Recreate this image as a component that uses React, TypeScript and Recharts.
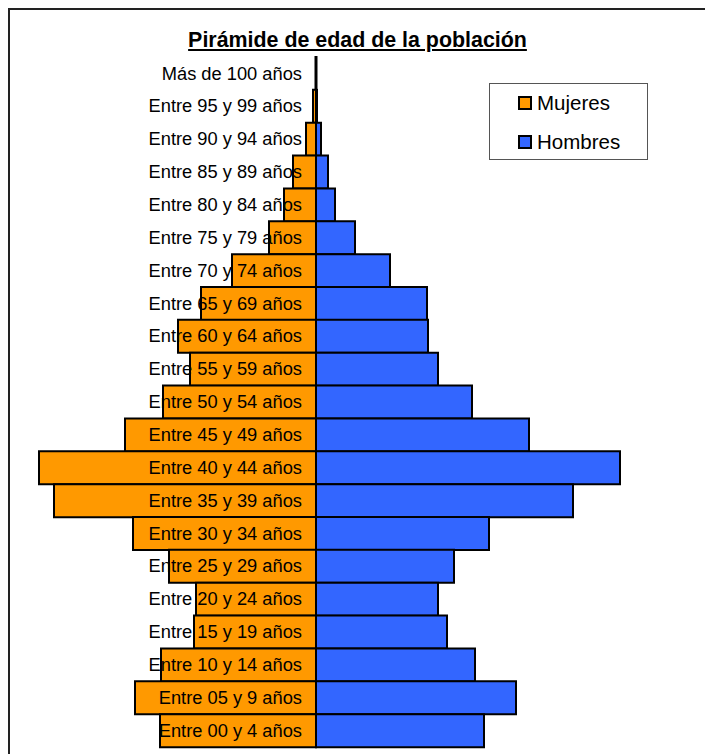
import { BarChart, Bar, XAxis, YAxis, Legend, LabelList } from "recharts";

// grupos de edad, de arriba hacia abajo
const edades = [
  "Más de 100 años", "Entre 95 y 99 años", "Entre 90 y 94 años", "Entre 85 y 89 años",
  "Entre 80 y 84 años", "Entre 75 y 79 años", "Entre 70 y 74 años", "Entre 65 y 69 años",
  "Entre 60 y 64 años", "Entre 55 y 59 años", "Entre 50 y 54 años", "Entre 45 y 49 años",
  "Entre 40 y 44 años", "Entre 35 y 39 años", "Entre 30 y 34 años", "Entre 25 y 29 años",
  "Entre 20 y 24 años", "Entre 15 y 19 años", "Entre 10 y 14 años", "Entre 05 y 9 años",
  "Entre 00 y 4 años",
];

const mujeres = [0.5, 3, 10, 23, 32, 47, 84, 115, 138, 126, 153, 191, 277, 262, 183, 147, 120, 122, 155, 181, 156];
const hombres = [0.5, 1, 5, 12, 19, 39, 74, 111, 112, 122, 156, 213, 304, 257, 173, 138, 122, 131, 159, 200, 168];

const series = [
  { name: "Mujeres", color: "#FF9900" },
  { name: "Hombres", color: "#3366FF" },
];

const data = edades.map((edad, i) => ({
  edad,
  Mujeres: -mujeres[i],
  Hombres: hombres[i],
}));

const FONT = "'Liberation Sans', Arial, sans-serif";

const EdadLabel = (props: any) => {
  const { x, y, height, value } = props;
  return (
    <text
      x={x - 14}
      y={y + height / 2}
      dy={6}
      textAnchor="end"
      fontFamily={FONT}
      fontSize={18.3}
      fill="#000"
    >
      {value}
    </text>
  );
};

const LegendBox = () => (
  <div
    style={{
      position: "relative",
      width: 159,
      height: 77,
      border: "1px solid #555",
      background: "#fff",
      fontFamily: FONT,
      fontSize: 20.5,
      boxSizing: "border-box",
    }}
  >
    {series.map((it, i) => (
      <div
        key={it.name}
        style={{
          position: "absolute",
          left: 28,
          top: 7 + i * 39,
          height: 24,
          display: "flex",
          alignItems: "center",
        }}
      >
        <span
          style={{
            display: "inline-block",
            width: 10,
            height: 10,
            border: "2px solid #000",
            background: it.color,
            marginRight: 5,
          }}
        />
        <span>{it.name}</span>
      </div>
    ))}
  </div>
);

export default function App() {
  return (
    <div
      style={{
        position: "relative",
        width: 695,
        height: 760,
        borderLeft: "2px solid #222",
        borderTop: "2px solid #222",
        borderRight: "2px solid #222",
      }}
    >
      <div
        style={{
          position: "absolute",
          top: 20,
          left: 0,
          width: 695,
          textAlign: "center",
          fontFamily: FONT,
          fontSize: 21.4,
          lineHeight: "21px",
          fontWeight: "bold",
          textDecoration: "underline",
        }}
      >
        Pirámide de edad de la población
      </div>
      <BarChart
        width={695}
        height={744}
        data={data}
        layout="vertical"
        stackOffset="sign"
        barCategoryGap={0}
        margin={{ top: 47, right: 59, bottom: 7, left: 6 }}
      >
        <XAxis type="number" domain={[-300, 330]} hide />
        <YAxis type="category" dataKey="edad" hide />
        <Legend
          verticalAlign="middle"
          align="center"
          content={() => <LegendBox />}
          wrapperStyle={{ position: "absolute", left: 479, top: 73, width: 159, height: 77 }}
        />
        <Bar dataKey="Mujeres" stackId="p" fill="#FF9900" stroke="#000" strokeWidth={2} isAnimationActive={false} />
        <Bar dataKey="Hombres" stackId="p" fill="#3366FF" stroke="#000" strokeWidth={2} isAnimationActive={false}>
          <LabelList dataKey="edad" content={EdadLabel} />
        </Bar>
      </BarChart>
    </div>
  );
}
